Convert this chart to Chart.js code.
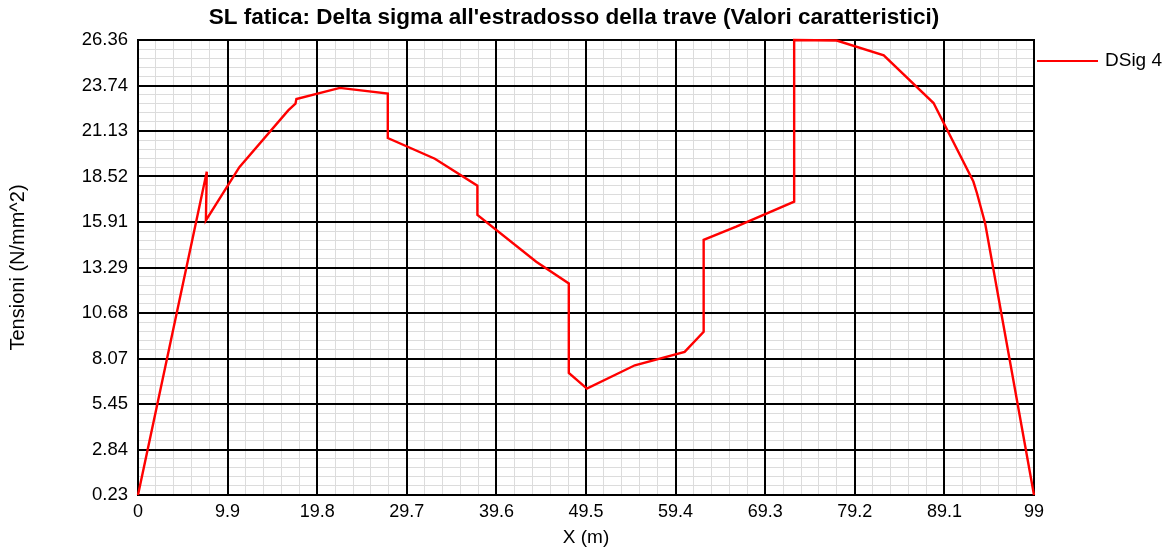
<!DOCTYPE html>
<html><head><meta charset="utf-8">
<script src="https://cdn.jsdelivr.net/npm/chart.js@4"></script>
<style>html,body{margin:0;padding:0;background:#fff}#wrap{width:1170px;height:554px}</style>
</head><body><div id="wrap"><canvas id="c" width="1170" height="554"></canvas></div>
<script>
const chartTitle = "SL fatica: Delta sigma all'estradosso della trave (Valori caratteristici)";
const xAxisTitle = "X (m)";
const yAxisTitle = "Tensioni (N/mm^2)";
const seriesName = "DSig 4";
const xTickValues = [0, 9.9, 19.8, 29.7, 39.6, 49.5, 59.4, 69.3, 79.2, 89.1, 99];
const xTickLabels = ["0", "9.9", "19.8", "29.7", "39.6", "49.5", "59.4", "69.3", "79.2", "89.1", "99"];
const yTickValues = [0.23, 2.843, 5.456, 8.069, 10.682, 13.295, 15.908, 18.521, 21.134, 23.747, 26.36];
const yTickLabels = ["0.23", "2.84", "5.45", "8.07", "10.68", "13.29", "15.91", "18.52", "21.13", "23.74", "26.36"];
const xValues = [0, 7.6, 7.5, 11.2, 16.6, 17.4, 17.5, 22.3, 27.6, 27.6, 32.8, 37.5, 37.5, 44.0, 47.6, 47.6, 49.6, 54.9, 60.4, 62.5, 62.5, 66.1, 72.5, 72.5, 77.2, 82.4, 87.9, 92.3, 92.7, 93.6, 99];
const yValues = [0.23, 18.8, 16.0, 19.06, 22.32, 22.70, 22.97, 23.61, 23.28, 20.73, 19.54, 17.99, 16.32, 13.63, 12.38, 7.24, 6.34, 7.68, 8.45, 9.60, 14.88, 15.64, 17.08, 26.36, 26.33, 25.48, 22.74, 18.23, 17.56, 15.84, 0.23];

const FONT = "'Liberation Sans', Arial, sans-serif";
const MINOR = 5;

function withMinor(majors) {
  const out = [];
  for (let i = 0; i < majors.length - 1; i++) {
    for (let k = 0; k < MINOR; k++) out.push(majors[i] + (majors[i + 1] - majors[i]) * k / MINOR);
  }
  out.push(majors[majors.length - 1]);
  return out;
}

const decorPlugin = {
  id: 'decor',
  beforeDatasetsDraw(chart) {
    const ctx = chart.ctx, a = chart.chartArea;
    const xs = chart.scales.x, ys = chart.scales.y;
    ctx.save();
    ctx.strokeStyle = '#000';
    ctx.lineWidth = 2;
    ctx.beginPath();
    xTickValues.forEach(v => { const p = Math.round(xs.getPixelForValue(v)); ctx.moveTo(p, a.top); ctx.lineTo(p, a.bottom); });
    yTickValues.forEach(v => { const p = Math.round(ys.getPixelForValue(v)); ctx.moveTo(a.left - 1, p); ctx.lineTo(a.right + 1, p); });
    ctx.stroke();
    ctx.restore();
  },
  afterDraw(chart) {
    const ctx = chart.ctx, a = chart.chartArea;
    ctx.save();
    ctx.fillStyle = '#000';
    ctx.font = "bold 22.5px " + FONT;
    ctx.textAlign = 'center';
    ctx.textBaseline = 'middle';
    ctx.fillText(chartTitle, 574, 18);
    ctx.font = "19px " + FONT;
    ctx.fillText(xAxisTitle, (a.left + a.right) / 2, 538);
    ctx.save();
    ctx.translate(18, (a.top + a.bottom) / 2);
    ctx.rotate(-Math.PI / 2);
    ctx.font = "20px " + FONT;
    ctx.fillText(yAxisTitle, 0, 0);
    ctx.restore();
    const ds = chart.data.datasets[0];
    const ly = a.top + 21;
    ctx.strokeStyle = ds.borderColor;
    ctx.lineWidth = 2;
    ctx.beginPath();
    ctx.moveTo(a.right + 3, ly);
    ctx.lineTo(a.right + 64, ly);
    ctx.stroke();
    ctx.textAlign = 'left';
    ctx.font = "19px " + FONT;
    ctx.fillText(ds.label, a.right + 71, ly);
    ctx.restore();
  }
};

const minorColor = (c) => (c.index % MINOR === 0 ? 'rgba(0,0,0,0)' : '#dcdcdc');

new Chart(document.getElementById('c'), {
  type: 'line',
  data: {
    datasets: [{
      label: seriesName,
      data: xValues.map((x, i) => ({ x: x, y: yValues[i] })),
      borderColor: '#ff0000',
      borderWidth: 2.4,
      pointRadius: 0,
      tension: 0,
      fill: false,
      clip: 3
    }]
  },
  options: {
    responsive: false,
    animation: false,
    devicePixelRatio: 1,
    layout: { padding: { left: 0, top: 40, right: 136, bottom: 0 } },
    plugins: { legend: { display: false }, title: { display: false }, tooltip: { enabled: false } },
    scales: {
      x: {
        type: 'linear', min: xTickValues[0], max: xTickValues[xTickValues.length - 1],
        afterBuildTicks: (s) => { s.ticks = withMinor(xTickValues).map(v => ({ value: v })); },
        afterFit: (s) => { s.height = 59; s.paddingLeft = 0; s.paddingRight = 0; },
        grid: { color: minorColor, lineWidth: 1, drawTicks: false },
        border: { display: false },
        ticks: {
          autoSkip: false, maxRotation: 0, padding: 6, color: '#000',
          font: { family: FONT, size: 18 },
          callback: (v, i) => (i % MINOR === 0 ? xTickLabels[i / MINOR] : '')
        }
      },
      y: {
        type: 'linear', min: yTickValues[0], max: yTickValues[yTickValues.length - 1],
        afterBuildTicks: (s) => { s.ticks = withMinor(yTickValues).map(v => ({ value: v })); },
        afterFit: (s) => { s.width = 138; s.paddingTop = 0; s.paddingBottom = 0; },
        grid: { color: minorColor, lineWidth: 1, drawTicks: false },
        border: { display: false },
        ticks: {
          autoSkip: false, padding: 10, color: '#000',
          font: { family: FONT, size: 18.5 },
          callback: (v, i) => (i % MINOR === 0 ? yTickLabels[i / MINOR] : '')
        }
      }
    }
  },
  plugins: [decorPlugin]
});
</script></body></html>
